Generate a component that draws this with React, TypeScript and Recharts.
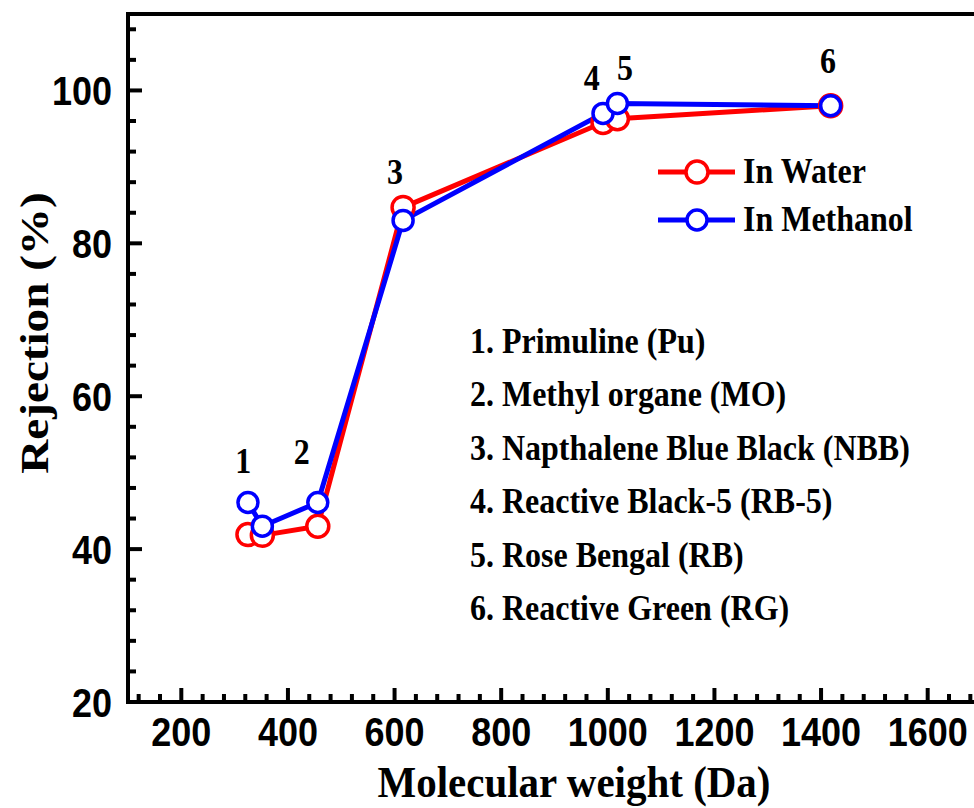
import React from 'react';
import { LineChart, Line, XAxis, YAxis, Legend, ReferenceDot, ReferenceLine } from 'recharts';

// dye molecular weights (Da) and rejection (%)
const molWeight = [325, 352, 456, 616, 991, 1018, 1418];
const waterRejection = [41.9, 41.8, 43.0, 84.7, 95.8, 96.3, 98.0];
const methanolRejection = [46.1, 43.0, 46.1, 83.0, 97.0, 98.3, 98.0];

// numbered annotations above the points
const dyeNumbers = ['1', '2', '3', '4', '5', '6'];
const dyeNumberX = [316, 426, 601, 970, 1032, 1413];
const dyeNumberY = [51.5, 52.7, 89.3, 101.6, 103.0, 103.9];

const dyeNames = [
  '1. Primuline (Pu)',
  '2. Methyl organe (MO)',
  '3. Napthalene Blue Black (NBB)',
  '4. Reactive Black-5 (RB-5)',
  '5. Rose Bengal (RB)',
  '6. Reactive Green (RG)',
];

const seriesNames = ['In Water', 'In Methanol'];

const xMajorTicks = [200, 400, 600, 800, 1000, 1200, 1400, 1600];
const yMajorTicks = [20, 40, 60, 80, 100];

const xTicks: number[] = [];
for (let v = 120; v <= 1680; v += 40) xTicks.push(v);
const yTicks: number[] = [];
for (let v = 20; v <= 108; v += 4) yTicks.push(v);

const waterData = molWeight.map((x, i) => ({ x, y: waterRejection[i] }));
const methanolData = molWeight.map((x, i) => ({ x, y: methanolRejection[i] }));

const SERIF = "'Liberation Serif', 'Times New Roman', serif";
const SANS = "'Liberation Sans', Arial, sans-serif";
const STRETCH = 1.15;

const XTick = (props: any) => {
  const { x, y, payload } = props;
  const v = payload.value;
  const major = xMajorTicks.includes(v);
  return (
    <g>
      <line x1={x} x2={x} y1={y} y2={y - (major ? 14 : 8)} stroke="#000" strokeWidth={4} />
      {major && (
        <text
          transform={`translate(${x},${y + 44}) scale(1,${STRETCH})`}
          textAnchor="middle"
          fontFamily={SANS}
          fontWeight="bold"
          fontSize={36}
          fill="#000"
        >
          {v}
        </text>
      )}
    </g>
  );
};

const YTick = (props: any) => {
  const { x, y, payload } = props;
  const v = payload.value;
  const major = yMajorTicks.includes(v);
  return (
    <g>
      <line x1={x} x2={x + (major ? 14 : 8)} y1={y} y2={y} stroke="#000" strokeWidth={4} />
      {major && (
        <text
          transform={`translate(${x - 16},${y + 15}) scale(1,${STRETCH})`}
          textAnchor="end"
          fontFamily={SANS}
          fontWeight="bold"
          fontSize={36}
          fill="#000"
        >
          {v}
        </text>
      )}
    </g>
  );
};

const numberShape = (label: string) => (p: any) => (
  <text
    transform={`translate(${p.cx},${p.cy + 12}) scale(1,${STRETCH})`}
    textAnchor="middle"
    fontFamily={SERIF}
    fontWeight="bold"
    fontSize={32}
    fill="#000"
  >
    {label}
  </text>
);

const renderLegend = (props: any) => {
  const items = [...(props.payload || [])].sort(
    (a: any, b: any) => seriesNames.indexOf(a.value) - seriesNames.indexOf(b.value)
  );
  return (
    <svg width={320} height={100}>
      {items.map((entry: any, i: number) => {
        const cy = 22 + i * 48;
        const red = entry.value === 'In Water';
        return (
          <g key={entry.value}>
            <line x1={8} x2={85} y1={cy} y2={cy} stroke={entry.color} strokeWidth={5} />
            <circle cx={47} cy={cy} r={red ? 11 : 10} fill="#fff" stroke={entry.color} strokeWidth={3.5} />
            <text
              transform={`translate(93,${cy + 11}) scale(1,${STRETCH})`}
              fontFamily={SERIF}
              fontWeight="bold"
              fontSize={32}
              fill="#000"
            >
              {entry.value}
            </text>
          </g>
        );
      })}
    </svg>
  );
};

export default function App() {
  return (
    <div style={{ position: 'absolute', left: 0, top: 0, width: 974, height: 808, overflow: 'hidden', background: '#fff' }}>
      <LineChart width={990} height={808} margin={{ top: 14, right: 9, bottom: 46, left: 68 }}>
        <XAxis
          dataKey="x"
          type="number"
          domain={[100, 1700]}
          allowDataOverflow
          ticks={xTicks}
          interval={0}
          height={60}
          tickSize={0}
          tickMargin={0}
          tickLine={false}
          axisLine={{ stroke: '#000', strokeWidth: 4, strokeLinecap: 'square' }}
          tick={<XTick />}
        />
        <YAxis
          type="number"
          domain={[20, 110]}
          allowDataOverflow
          ticks={yTicks}
          interval={0}
          width={60}
          tickSize={0}
          tickMargin={0}
          tickLine={false}
          axisLine={{ stroke: '#000', strokeWidth: 4, strokeLinecap: 'square' }}
          tick={<YTick />}
        />
        {/* top frame line */}
        <ReferenceLine y={110} stroke="#000" strokeWidth={4} ifOverflow="visible" />
        <Legend
          layout="vertical"
          align="center"
          verticalAlign="middle"
          wrapperStyle={{ position: 'absolute', left: 650, top: 150, width: 320, height: 100 }}
          content={renderLegend}
        />
        <Line
          name={seriesNames[0]}
          data={waterData}
          dataKey="y"
          type="linear"
          stroke="#ff0000"
          strokeWidth={5}
          dot={{ r: 11, fill: '#fff', stroke: '#ff0000', strokeWidth: 3.5 }}
          activeDot={false}
          isAnimationActive={false}
        />
        <Line
          name={seriesNames[1]}
          data={methanolData}
          dataKey="y"
          type="linear"
          stroke="#0000ff"
          strokeWidth={5}
          dot={{ r: 10, fill: '#fff', stroke: '#0000ff', strokeWidth: 3.5 }}
          activeDot={false}
          isAnimationActive={false}
        />
        {dyeNumbers.map((n, i) => (
          <ReferenceDot
            key={n}
            x={dyeNumberX[i]}
            y={dyeNumberY[i]}
            r={0}
            ifOverflow="visible"
            shape={numberShape(n)}
          />
        ))}
      </LineChart>
      <svg width={974} height={808} style={{ position: 'absolute', left: 0, top: 0, pointerEvents: 'none' }}>
        <text
          transform={`translate(48,333) rotate(-90) scale(${STRETCH},1)`}
          textAnchor="middle"
          fontFamily={SERIF}
          fontWeight="bold"
          fontSize={41}
          fill="#000"
        >
          Rejection (%)
        </text>
        <text
          transform={`translate(574,797) scale(1,1.1)`}
          textAnchor="middle"
          fontFamily={SERIF}
          fontWeight="bold"
          fontSize={41}
          fill="#000"
        >
          Molecular weight (Da)
        </text>
        {dyeNames.map((name, i) => (
          <text
            key={name}
            transform={`translate(470,${353 + i * 53.4}) scale(1,${STRETCH})`}
            fontFamily={SERIF}
            fontWeight="bold"
            fontSize={32}
            fill="#000"
          >
            {name}
          </text>
        ))}
      </svg>
    </div>
  );
}
